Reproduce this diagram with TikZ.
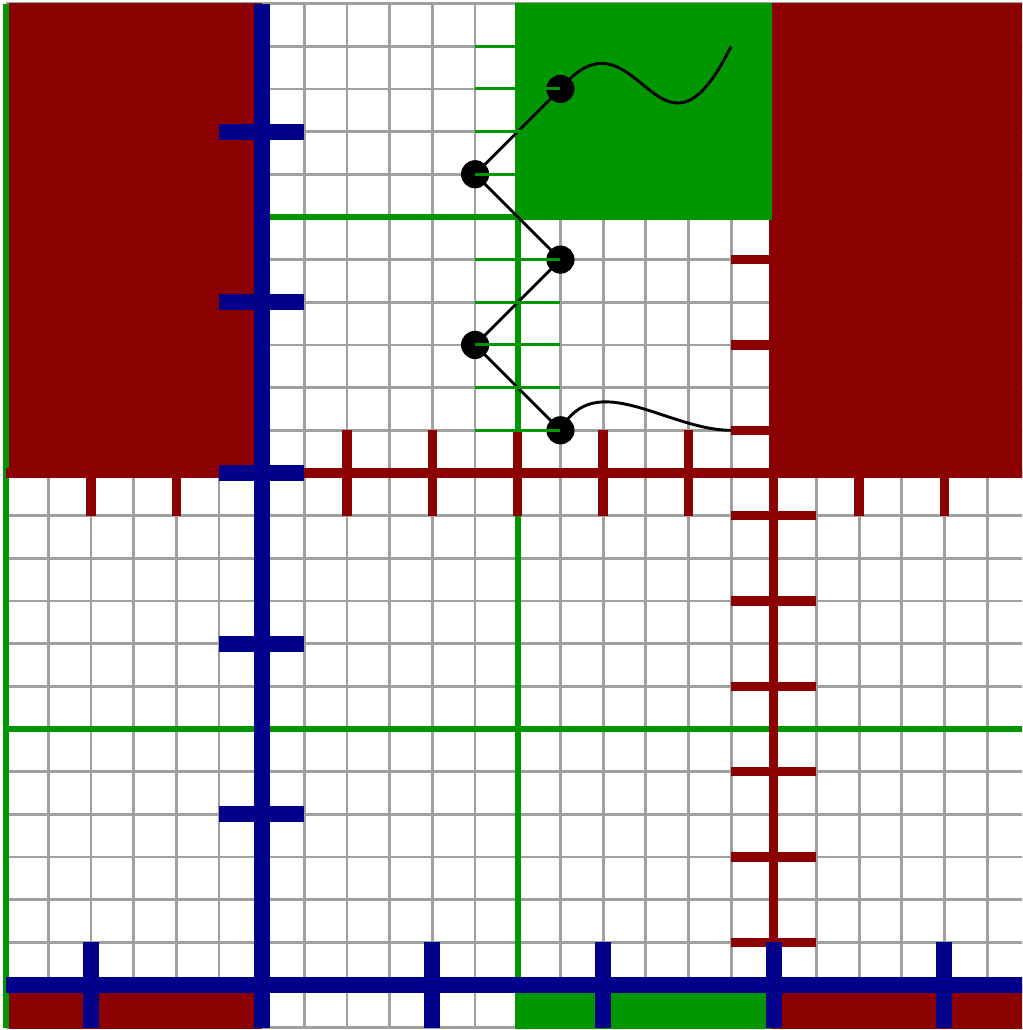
\documentclass[tikz,border=0pt]{standalone}
\begin{document}
\begin{tikzpicture}[x=1cm,y=1cm,
  gridline/.style={draw=gridgray, line width=0.065cm},
  redfill/.style={fill=dred},
  greenfill/.style={fill=dgreen},
  greenline/.style={draw=dgreen, line width=0.15cm},
  greentick/.style={draw=dgreen, line width=0.072cm},
  redline/.style={draw=dred, line width=0.22cm},
  blueline/.style={draw=dblue, line width=0.375cm},
  blackline/.style={draw=black, line width=0.068cm},
  dot/.style={circle, fill=black, minimum size=0.66cm, inner sep=0pt}]
\definecolor{gridgray}{HTML}{A0A0A0}
\definecolor{dred}{HTML}{8B0000}
\definecolor{dgreen}{HTML}{009600}
\definecolor{dblue}{HTML}{00008B}
\useasboundingbox (-6.134,-1.054) rectangle (17.82,23.084);
\clip (-6.134,-1.054) rectangle (17.82,23.084);
% grid
\draw[gridline] (-6,-1) grid (18,23);
% green lines
\draw[greenline] (-6,-1) -- (-6,23);
\draw[greenline] (6,-1) -- (6,23);
\draw[greenline] (-6,6) -- (18,6);
\draw[greenline] (0,18) -- (6,18);
% red axes and ticks
\draw[redline] (-6,12) -- (18,12);
\draw[redline] (12,-1) -- (12,23);
\foreach \x in {-4,-2,...,16} \draw[redline] (\x,11) -- (\x,13);
\foreach \y in {1,3,...,21} \draw[redline] (11,\y) -- (13,\y);
% red rectangles
\fill[redfill] (-5.93,11.89) rectangle (0,23.02);
\fill[redfill] (11.88,11.89) rectangle (18,23.02);
\fill[redfill] (-5.93,-1.03) rectangle (0,0);
\fill[redfill] (11.95,-1.03) rectangle (18,0);
% green rectangles
\fill[greenfill] (5.93,17.93) rectangle (11.95,23.02);
\fill[greenfill] (5.93,-1.03) rectangle (11.95,0);
% blue axes and ticks
\draw[blueline] (0,-1) -- (0,23);
\draw[blueline] (-6,0) -- (18,0);
\foreach \y in {4,8,...,20} \draw[blueline] (-1,\y) -- (1,\y);
\foreach \x in {-4,4,8,12,16} \draw[blueline] (\x,-1) -- (\x,1);
% black structure
\coordinate (p1) at (7,21);
\coordinate (p2) at (5,19);
\coordinate (p3) at (7,17);
\coordinate (p4) at (5,15);
\coordinate (p5) at (7,13);
\coordinate (e1) at (11,22);
\coordinate (e2) at (11,13);
\draw[blackline] (p1) -- (p2) -- (p3) -- (p4) -- (p5);
\draw[blackline] (p1) .. controls (8.8,23.15) and (9.3,18.55) .. (e1);
\draw[blackline] (p5) .. controls (7.8,14.5) and (9.5,13) .. (e2);
\node[dot] (n1) at (p1) {};
\node[dot] (n2) at (p2) {};
\node[dot] (n3) at (p3) {};
\node[dot] (n4) at (p4) {};
\node[dot] (n5) at (p5) {};
% green ticks
\foreach \y in {13,14,15,16,17,19,20,21,22} \draw[greentick] (5,\y) -- (7,\y);
\end{tikzpicture}
\end{document}
